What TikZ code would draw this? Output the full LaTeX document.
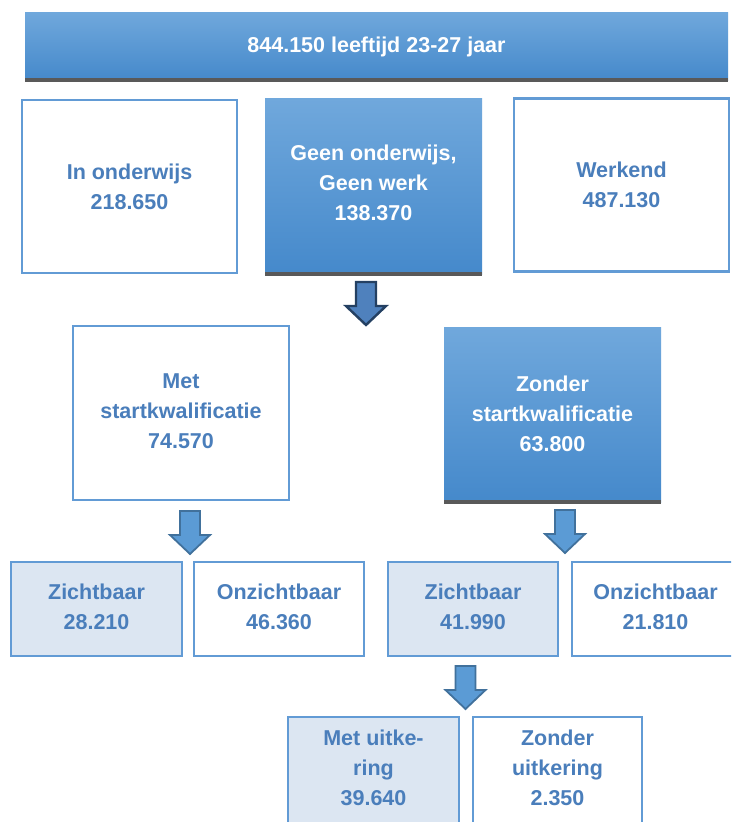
\documentclass[tikz,border=0pt]{standalone}
\usepackage{fontspec}
\setmainfont{Liberation Sans}
\definecolor{lineblue}{RGB}{98,155,213}
\definecolor{txtblue}{RGB}{74,126,187}
\definecolor{lightfill}{RGB}{220,230,242}
\definecolor{gradtop}{RGB}{112,168,220}
\definecolor{gradbot}{RGB}{69,137,203}
\definecolor{darkbarc}{RGB}{89,89,89}
\definecolor{arrAfill}{RGB}{79,129,189}
\definecolor{arrAline}{RGB}{36,64,98}
\definecolor{arrBfill}{RGB}{91,155,213}
\definecolor{arrBline}{RGB}{65,113,156}
\newcommand\blockarr[3]{\draw[#1] ({#2-10},#3) -- ({#2+10},#3) -- ({#2+10},{#3+24}) -- ({#2+20},{#3+24}) -- (#2,{#3+43}) -- ({#2-20},{#3+24}) -- ({#2-10},{#3+24}) -- cycle;}
\begin{document}
\begin{tikzpicture}[x=1pt,y=-1pt,
  txt/.style={font=\fontsize{21.5}{30}\selectfont\bfseries, align=center, text=txtblue, inner sep=0pt},
  wtxt/.style={txt, text=white},
  boxbase/.style={rectangle, inner sep=0pt, outer sep=0pt},
  obox/.style={boxbase, draw=lineblue, line width=2.7pt, fill=white},
  lbox/.style={boxbase, draw=lineblue, line width=2.7pt, fill=lightfill},
  gbox/.style={boxbase, top color=gradtop, bottom color=gradbot, draw=none},
  darkbar/.style={draw=darkbarc, line width=4pt},
  arrA/.style={fill=arrAfill, draw=arrAline, line width=2.4pt, line join=miter},
  arrB/.style={fill=arrBfill, draw=arrBline, line width=1.8pt, line join=miter},
]
\useasboundingbox (0,0) rectangle (731,822);
\clip (0,0) rectangle (731,822);
\fill[white] (0,0) rectangle (731,822);

% top bar
\node[gbox, minimum width=703pt, minimum height=68pt] (top) at (376.5,46) {};
\draw[darkbar] (top.south west) -- (top.south east);
\node[wtxt] (topt) at (376.5,47) {844.150 leeftijd 23-27 jaar};

% first row
\node[obox, minimum width=215pt, minimum height=173pt] (inond) at (129.5,186.5) {};
\node[txt] (inondt) at (inond.center) {In onderwijs\\218.650};

\node[gbox, minimum width=217pt, minimum height=176pt] (geen) at (373.5,186) {};
\draw[darkbar] (geen.south west) -- (geen.south east);
\node[wtxt] (geent) at (373.5,183) {Geen onderwijs,\\Geen werk\\138.370};

\node[obox, minimum width=215pt, minimum height=173pt] (werk) at (621.5,185) {};
\node[txt] (werkt) at (werk.center) {Werkend\\487.130};

\blockarr{arrA}{366}{282}

% second row
\node[obox, minimum width=216pt, minimum height=174pt] (met) at (181,413) {};
\node[txt] (mett) at (181,411) {Met\\startkwalificatie\\74.570};

\node[gbox, minimum width=217pt, minimum height=175pt] (zonder) at (552.5,414.5) {};
\draw[darkbar] (zonder.south west) -- (zonder.south east);
\node[wtxt] (zondert) at (552.5,414) {Zonder\\startkwalificatie\\63.800};

\blockarr{arrB}{190}{511}
\blockarr{arrB}{565}{510}

% third row
\node[lbox, minimum width=171pt, minimum height=94pt] (zm) at (96.5,609) {};
\node[txt] (zmt) at (96.5,607) {Zichtbaar\\28.210};
\node[obox, minimum width=170pt, minimum height=94pt] (om) at (279,609) {};
\node[txt] (omt) at (279,607) {Onzichtbaar\\46.360};
\node[lbox, minimum width=170pt, minimum height=94pt] (zz) at (473,609) {};
\node[txt] (zzt) at (473,607) {Zichtbaar\\41.990};
\node[obox, minimum width=173pt, minimum height=94pt] (oz) at (658.5,609) {};
\node[txt] (ozt) at (655.5,607) {Onzichtbaar\\21.810};

\blockarr{arrB}{465.5}{666}

% fourth row
\node[lbox, minimum width=171pt, minimum height=150pt, anchor=north] (mu) at (373.5,717) {};
\node[txt] (mut) at (373.5,768) {Met uitke-\\ring\\39.640};
\node[obox, minimum width=169pt, minimum height=150pt, anchor=north] (zu) at (557.5,717) {};
\node[txt] (zut) at (557.5,768) {Zonder\\uitkering\\2.350};
\end{tikzpicture}
\end{document}
